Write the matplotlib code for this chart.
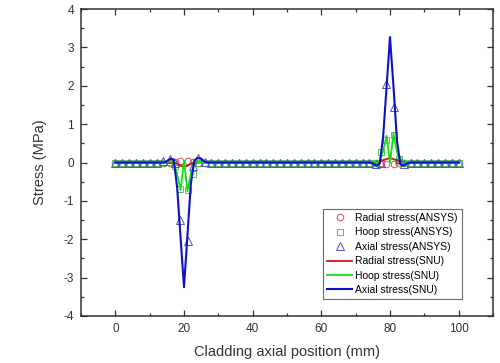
import numpy as np
import matplotlib
matplotlib.use('Agg')
import matplotlib.pyplot as plt
from matplotlib.ticker import MultipleLocator

plt.rcParams['font.family'] = ['Liberation Sans', 'DejaVu Sans']
plt.rcParams['axes.unicode_minus'] = False

# SNU results (lines)
x_snu = [0, 14, 15, 16, 17, 18, 19, 20, 21, 22, 23, 24, 25, 26, 27,
         74, 75, 76, 77, 78, 79, 80, 81, 82, 83, 84, 85, 86, 100]
axial_snu = [0, 0, 0.03, 0.1, 0.08, -0.65, -1.95, -3.25, -1.9, -0.55, 0.05, 0.12, 0.1, 0.02, 0,
             0, -0.02, -0.08, -0.03, 0.67, 1.97, 3.27, 2.0, 0.6, -0.05, -0.08, -0.02, 0, 0]
hoop_snu = [0, 0, 0, 0.03, 0.0, -0.3, -0.72, 0.05, -0.75, -0.3, 0.0, 0.02, 0, 0, 0,
            0, 0, -0.02, 0.05, 0.3, 0.7, 0.0, 0.75, 0.3, 0.0, -0.02, 0, 0, 0]
radial_snu = [0, 0, 0, 0, 0, -0.03, -0.08, -0.12, -0.08, -0.03, 0, 0, 0, 0, 0,
              0, 0, 0, 0.03, 0.06, 0.09, 0.12, 0.09, 0.06, 0.03, 0, 0, 0, 0]

# ANSYS results (markers)
x_ansys = [0, 2, 4, 6, 8, 10, 12, 14, 16, 17.5, 18.75, 21.25, 22.5, 24, 26, 28, 30,
           32, 34, 36, 38, 40, 42, 44, 46, 48, 50, 52, 54, 56, 58, 60, 62, 64, 66, 68,
           70, 72, 74, 76, 77.5, 78.75, 81.25, 82.5, 84, 86, 88, 90, 92, 94, 96, 98, 100]
axial_ansys = [0, 0, 0, 0, 0, 0, 0, 0.03, 0.1, 0.0, -1.5, -2.05, -0.1, 0.12, 0.02, 0, 0,
               0, 0, 0, 0, 0, 0, 0, 0, 0, 0, 0, 0, 0, 0, 0, 0, 0, 0, 0,
               0, 0, 0, -0.05, 0.0, 2.05, 1.45, 0.1, -0.05, 0, 0, 0, 0, 0, 0, 0, 0]
hoop_ansys = [0, 0, 0, 0, 0, 0, 0, 0, 0.02, -0.1, -0.7, -0.72, -0.3, 0.0, 0, 0, 0,
              0, 0, 0, 0, 0, 0, 0, 0, 0, 0, 0, 0, 0, 0, 0, 0, 0, 0, 0,
              0, 0, 0, 0.0, 0.27, 0.6, 0.72, 0.1, 0.0, 0, 0, 0, 0, 0, 0, 0, 0]
radial_ansys = [0, 0, 0, 0, 0, 0, 0, 0, 0, 0.02, 0.03, 0.03, 0.02, 0, 0, 0, 0,
                0, 0, 0, 0, 0, 0, 0, 0, 0, 0, 0, 0, 0, 0, 0, 0, 0, 0, 0,
                0, 0, 0, 0, -0.02, -0.03, -0.03, -0.02, 0, 0, 0, 0, 0, 0, 0, 0, 0]

fig = plt.figure(figsize=(5.0, 3.63), dpi=100)
ax = fig.add_axes([0.162, 0.1295, 0.824, 0.8455])

ax.plot(x_ansys, radial_ansys, 'o', mfc='none', mec='#d05050', ms=4.8, mew=0.7,
        label='Radial stress(ANSYS)')
ax.plot(x_ansys, hoop_ansys, 's', mfc='none', mec='#50c850', ms=4.5, mew=0.7,
        label='Hoop stress(ANSYS)')
ax.plot(x_ansys, axial_ansys, '^', mfc='none', mec='#5050d0', ms=5.2, mew=0.7,
        label='Axial stress(ANSYS)')
ax.plot(x_snu, radial_snu, '-', color='#d01010', lw=1.3, label='Radial stress(SNU)')
ax.plot(x_snu, hoop_snu, '-', color='#10e010', lw=1.3, label='Hoop stress(SNU)')
ax.plot(x_snu, axial_snu, '-', color='#1010c8', lw=1.5, label='Axial stress(SNU)')

ax.set_xlim(-10, 110)
ax.set_ylim(-4, 4)
ax.xaxis.set_major_locator(MultipleLocator(20))
ax.xaxis.set_minor_locator(MultipleLocator(10))
ax.yaxis.set_major_locator(MultipleLocator(1))
ax.yaxis.set_minor_locator(MultipleLocator(0.5))
ax.tick_params(which='both', direction='in', top=True, right=True,
               labelsize=8.5, colors='#333333', width=0.9)
ax.tick_params(which='major', length=4, pad=5)
ax.tick_params(which='minor', length=2.5)
for s in ax.spines.values():
    s.set_color('#333333')
    s.set_linewidth(1.1)

ax.set_xlabel('Cladding axial position (mm)', fontsize=10.5, color='#333333', labelpad=7)
ax.set_ylabel('Stress (MPa)', fontsize=10.5, color='#333333', labelpad=12)

leg = ax.legend(loc='lower right', bbox_to_anchor=(0.925, 0.055), fontsize=7.5,
                frameon=True, fancybox=False, edgecolor='#444444',
                handlelength=2.4, handletextpad=0.3, labelspacing=0.42,
                borderpad=0.4, borderaxespad=0)
leg.get_frame().set_linewidth(0.8)

fig.savefig('out.png', dpi=100)
